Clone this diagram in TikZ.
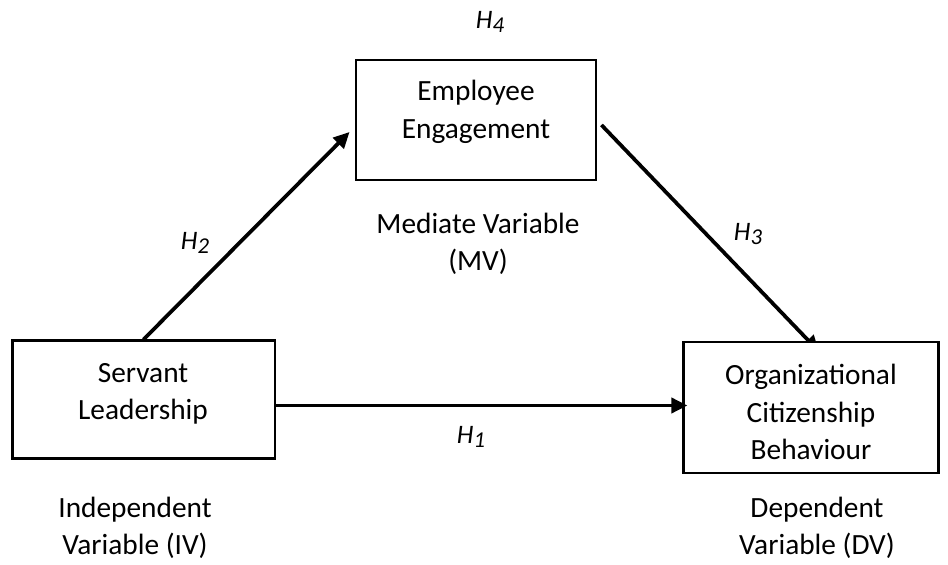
\documentclass[tikz,border=0pt]{standalone}
\usepackage{fontspec}
\setmainfont{Carlito}
\usetikzlibrary{arrows.meta, calc, backgrounds}

\newcommand{\hyp}[1]{\textit{H\raisebox{-1.3pt}{\fontsize{8.5}{10}\selectfont #1}}}

\begin{document}
\begin{tikzpicture}[
  x=0.375pt, y=-0.375pt,
  box/.style={draw, line width=1.1pt, fill=white, inner sep=0pt},
  boxtext/.style={align=center, font=\fontsize{11}{14}\selectfont, inner sep=0pt},
  note/.style={align=center, font=\fontsize{11}{14}\selectfont, inner sep=0pt},
  hlabel/.style={font=\fontsize{10}{12}\selectfont, inner sep=0pt},
  arrow/.style={-{Triangle[length=6pt, width=5.6pt]}, line width=1.4pt}
]
\useasboundingbox (0,0) rectangle (948,565);

% boxes
\node[box, minimum width=98.6pt, minimum height=43.9pt] (servant) at (143.5,399.5) {};
\node[box, minimum width=90pt, minimum height=45pt] (engage) at (476,120) {};
\node[box, minimum width=95.3pt, minimum height=49.1pt] (ocb) at (811,407.5) {};

\node[boxtext] (servant-txt) at (143,394) {Servant\\Leadership};
\node[boxtext] (engage-txt) at (476,112) {Employee\\Engagement};
\node[boxtext] (ocb-txt) at (811,412) {Organizational\\Citizenship\\Behaviour};

% variable types
\node[note] (mv) at (478,244) {Mediate Variable\\(MV)};
\node[note] (iv) at (135,528) {Independent\\Variable (IV)};
\node[note] (dv) at (817,528) {Dependent\\Variable (DV)};

% hypotheses
\node[hlabel] (h4) at (490,22) {\hyp{4}};
\node[hlabel] (h2) at (195,243) {\hyp{2}};
\node[hlabel] (h3) at (748,234) {\hyp{3}};
\node[hlabel] (h1) at (471,437) {\hyp{1}};

% paths
\draw[arrow] (servant.north) -- ($(engage.west)+(-5,12)$);
\draw[arrow] ($(servant.east)+(0,6)$) -- ($(ocb.west)+(5,-2)$);
\begin{scope}[on background layer]
\draw[arrow] ($(engage.east)+(4,5)$) -- ($(ocb.north)+(8,11)$);
\end{scope}
\end{tikzpicture}
\end{document}
